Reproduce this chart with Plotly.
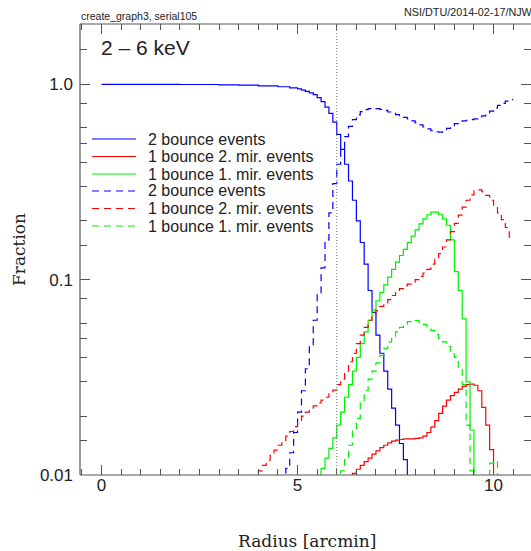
import plotly.graph_objects as go

# ---------------------------------------------------------------------------
# Radial profiles, 2-6 keV: fraction of events per radial bin.
# R_* are bin edges in arcmin, F_* the fraction in each bin (one fewer value).
# ---------------------------------------------------------------------------

# 2 bounce events (solid)
R_2B = [0.0, 1.0, 2.0, 3.0, 3.5, 4.0, 4.5, 4.8, 5.0, 5.1, 5.2, 5.3, 5.4, 5.5,
        5.6, 5.7, 5.8, 5.9, 6.0, 6.1, 6.2, 6.3, 6.4, 6.5, 6.6, 6.7, 6.8, 6.9,
        7.0, 7.1, 7.2, 7.3, 7.4, 7.5, 7.6, 7.7, 7.8, 7.9]
F_2B = [1.0, 1.0, 0.998, 0.995, 0.99, 0.982, 0.972, 0.96, 0.948, 0.935, 0.92,
        0.905, 0.885, 0.855, 0.815, 0.765, 0.71, 0.64, 0.555, 0.465, 0.39, 0.32,
        0.255, 0.2, 0.155, 0.12, 0.088, 0.068, 0.052, 0.042, 0.034, 0.0275,
        0.022, 0.018, 0.0145, 0.012, 0.008]

# 1 bounce, 2nd mirror events (solid)
R_1B2M = [6.3, 6.4, 6.5, 6.6, 6.7, 6.8, 6.9, 7.0, 7.1, 7.2, 7.3, 7.4, 7.5, 7.6,
          7.7, 7.8, 7.9, 8.0, 8.1, 8.2, 8.3, 8.4, 8.5, 8.6, 8.7, 8.8, 8.9, 9.0,
          9.1, 9.2, 9.3, 9.4, 9.5, 9.6, 9.7, 9.8, 9.9, 10.0, 10.1]
F_1B2M = [0.008, 0.0102, 0.0107, 0.0112, 0.0117, 0.0122, 0.0128, 0.0133, 0.0138,
          0.0142, 0.0146, 0.0149, 0.0151, 0.0152, 0.0153, 0.0153, 0.0153, 0.0154,
          0.0155, 0.0158, 0.0165, 0.0176, 0.019, 0.0207, 0.0225, 0.0242, 0.0255,
          0.0265, 0.0275, 0.0284, 0.029, 0.0292, 0.0288, 0.027, 0.0222, 0.018,
          0.0135, 0.008]

# 1 bounce, 1st mirror events (solid)
R_1B1M = [5.5, 5.6, 5.7, 5.8, 5.9, 6.0, 6.1, 6.2, 6.3, 6.4, 6.5, 6.6, 6.7, 6.8,
          6.9, 7.0, 7.1, 7.2, 7.3, 7.4, 7.5, 7.6, 7.7, 7.8, 7.9, 8.0, 8.1, 8.2,
          8.3, 8.4, 8.5, 8.6, 8.7, 8.8, 8.9, 9.0, 9.1, 9.2, 9.3, 9.4, 9.5, 9.6]
F_1B1M = [0.008, 0.0108, 0.0122, 0.0137, 0.0155, 0.018, 0.021, 0.025, 0.029,
          0.034, 0.04, 0.047, 0.054, 0.062, 0.07, 0.078, 0.086, 0.094, 0.103,
          0.113, 0.123, 0.133, 0.143, 0.155, 0.167, 0.18, 0.193, 0.205, 0.215,
          0.222, 0.222, 0.215, 0.205, 0.19, 0.16, 0.11, 0.088, 0.063, 0.03,
          0.017, 0.007]

# 2 bounce events (dashed)
R_2B_D = [4.6, 4.7, 4.8, 4.9, 5.0, 5.1, 5.2, 5.3, 5.4, 5.5, 5.6, 5.7, 5.8, 5.9,
          6.0, 6.1, 6.2, 6.3, 6.4, 6.5, 6.6, 6.7, 6.8, 6.9, 7.0, 7.1, 7.2, 7.3,
          7.4, 7.5, 7.6, 7.7, 7.8, 7.9, 8.0, 8.1, 8.2, 8.3, 8.4, 8.5, 8.6, 8.7,
          8.8, 8.9, 9.0, 9.1, 9.2, 9.3, 9.4, 9.5, 9.6, 9.7, 9.8, 9.9, 10.0,
          10.1, 10.2, 10.3, 10.4, 10.5]
F_2B_D = [0.008, 0.0108, 0.013, 0.0165, 0.021, 0.027, 0.035, 0.046, 0.062,
          0.085, 0.115, 0.16, 0.22, 0.31, 0.39, 0.47, 0.54, 0.61, 0.66, 0.697,
          0.725, 0.742, 0.752, 0.755, 0.752, 0.745, 0.735, 0.722, 0.71, 0.7,
          0.69, 0.677, 0.665, 0.65, 0.635, 0.62, 0.605, 0.592, 0.58, 0.572,
          0.57, 0.578, 0.595, 0.615, 0.63, 0.64, 0.65, 0.655, 0.66, 0.665,
          0.672, 0.69, 0.71, 0.73, 0.755, 0.78, 0.8, 0.82, 0.835]

# 1 bounce, 2nd mirror events (dashed)
R_1B2M_D = [3.9, 4.0, 4.1, 4.2, 4.3, 4.4, 4.5, 4.6, 4.7, 4.8, 4.9, 5.0, 5.1,
            5.2, 5.3, 5.4, 5.5, 5.6, 5.7, 5.8, 5.9, 6.0, 6.1, 6.2, 6.3, 6.4,
            6.5, 6.6, 6.7, 6.8, 6.9, 7.0, 7.1, 7.2, 7.3, 7.4, 7.5, 7.6, 7.7,
            7.8, 7.9, 8.0, 8.1, 8.2, 8.3, 8.4, 8.5, 8.6, 8.7, 8.8, 8.9, 9.0,
            9.1, 9.2, 9.3, 9.4, 9.5, 9.6, 9.7, 9.8, 9.9, 10.0, 10.1, 10.2,
            10.3, 10.4, 10.5]
F_1B2M_D = [0.008, 0.0105, 0.0112, 0.0119, 0.0126, 0.0134, 0.0142, 0.015,
            0.0158, 0.0167, 0.0177, 0.0188, 0.02, 0.021, 0.0218, 0.0226, 0.0234,
            0.0242, 0.025, 0.026, 0.0272, 0.029, 0.031, 0.034, 0.038, 0.042,
            0.047, 0.052, 0.057, 0.062, 0.066, 0.0695, 0.073, 0.076, 0.079,
            0.083, 0.087, 0.09, 0.093, 0.095, 0.097, 0.1, 0.104, 0.108, 0.113,
            0.12, 0.127, 0.136, 0.147, 0.16, 0.176, 0.194, 0.214, 0.235, 0.255,
            0.272, 0.285, 0.288, 0.282, 0.27, 0.255, 0.238, 0.22, 0.203, 0.185,
            0.165]

# 1 bounce, 1st mirror events (dashed)
R_1B1M_D = [6.0, 6.1, 6.2, 6.3, 6.4, 6.5, 6.6, 6.7, 6.8, 6.9, 7.0, 7.1, 7.2,
            7.3, 7.4, 7.5, 7.6, 7.7, 7.8, 7.9, 8.0, 8.1, 8.2, 8.3, 8.4, 8.5,
            8.6, 8.7, 8.8, 8.9, 9.0, 9.1, 9.2, 9.3, 9.4, 9.5, 9.6, 9.7, 9.8,
            9.9, 10.0, 10.1, 10.2]
F_1B1M_D = [0.008, 0.0105, 0.012, 0.0142, 0.0168, 0.0195, 0.0235, 0.027, 0.031,
            0.034, 0.0375, 0.041, 0.0445, 0.048, 0.051, 0.054, 0.057, 0.059,
            0.061, 0.062, 0.0618, 0.0605, 0.059, 0.0575, 0.055, 0.0525, 0.05,
            0.048, 0.0455, 0.043, 0.04, 0.035, 0.029, 0.018, 0.0105, 0.008,
            0.007, 0.007, 0.008, 0.0115, 0.0118, 0.008]

LABELS = ["2 bounce events", "1 bounce 2. mir. events", "1 bounce 1. mir. events",
          "2 bounce events", "1 bounce 2. mir. events", "1 bounce 1. mir. events"]

BLUE, RED, GREEN = "#0000ff", "#ff0000", "#00f000"
DASH = "7px,5px"

SERIES = [
    (R_2B, F_2B, BLUE, "solid"),
    (R_1B2M, F_1B2M, RED, "solid"),
    (R_1B1M, F_1B1M, GREEN, "solid"),
    (R_2B_D, F_2B_D, BLUE, DASH),
    (R_1B2M_D, F_1B2M_D, RED, DASH),
    (R_1B1M_D, F_1B1M_D, GREEN, DASH),
]

SPLIT_RADIUS = 6.0

# ---------------------------------------------------------------------------
# Page geometry
# ---------------------------------------------------------------------------
FIG_W, FIG_H = 531, 551
M_L, M_R, M_T, M_B = 80, 0, 24, 76
PW = FIG_W - M_L - M_R
PH = FIG_H - M_T - M_B


def px(x):
    return (x - M_L) / PW


def py(y):
    return (FIG_H - M_B - y) / PH


SANS = "Liberation Sans, Arial, Helvetica, sans-serif"
SERIF = "DejaVu Serif, serif"
INK = "#222222"
AXC = "#555555"

fig = go.Figure()

for edges, frac, color, dash in SERIES:
    fig.add_trace(go.Scatter(
        x=edges, y=frac + [frac[-1]],
        mode="lines",
        line=dict(shape="hv", color=color, width=1.2, dash=dash),
        showlegend=False, hoverinfo="skip",
    ))

shapes = []
# axis frame (left, bottom, top)
for x0, y0, x1, y1 in [(0, 0, 0, 1), (0, 0, 1, 0), (0, 1, 1, 1)]:
    shapes.append(dict(type="line", xref="paper", yref="paper",
                       x0=x0, y0=y0, x1=x1, y1=y1,
                       line=dict(color=AXC, width=1.2)))
# dotted marker at the split radius
shapes.append(dict(type="line", xref="x", yref="paper",
                   x0=SPLIT_RADIUS, x1=SPLIT_RADIUS, y0=0, y1=1,
                   line=dict(color="#777777", width=1, dash="1px,2px")))

annotations = []
# legend
ROW_Y = [139.0, 156.5, 174.0, 191.0, 208.5, 226.0]
for (edges, frac, color, dash), label, yrow in zip(SERIES, LABELS, ROW_Y):
    shapes.append(dict(type="line", xref="paper", yref="paper",
                       x0=px(92), x1=px(136), y0=py(yrow), y1=py(yrow),
                       line=dict(color=color, width=1, dash=dash)))
    annotations.append(dict(xref="paper", yref="paper", x=px(146), y=py(yrow),
                            xanchor="left", yanchor="middle", text=label,
                            showarrow=False,
                            font=dict(family=SANS, size=16, color=INK)))

annotations += [
    dict(xref="paper", yref="paper", x=px(99), y=py(47), xanchor="left",
         yanchor="middle", text="2 – 6 keV", showarrow=False,
         font=dict(family=SANS, size=21, color=INK)),
    dict(xref="paper", yref="paper", x=px(79), y=py(16), xanchor="left",
         yanchor="middle", text="create_graph3, serial105", showarrow=False,
         font=dict(family=SANS, size=10.5, color=INK)),
    dict(xref="paper", yref="paper", x=px(402), y=py(12), xanchor="left",
         yanchor="middle", text="NSI/DTU/2014-02-17/NJW", showarrow=False,
         font=dict(family=SANS, size=10.8, color=INK)),
    dict(xref="paper", yref="paper", x=px(306.5), y=py(541), xanchor="center",
         yanchor="middle", text="Radius [arcmin]", showarrow=False,
         font=dict(family=SERIF, size=17, color=INK)),
    dict(xref="paper", yref="paper", x=px(19), y=py(250), xanchor="center",
         yanchor="middle", text="Fraction", textangle=-90, showarrow=False,
         font=dict(family=SERIF, size=17, color=INK)),
]

fig.update_layout(
    width=FIG_W, height=FIG_H,
    margin=dict(l=M_L, r=M_R, t=M_T, b=M_B, pad=0),
    paper_bgcolor="white", plot_bgcolor="white",
    showlegend=False,
    shapes=shapes, annotations=annotations,
    xaxis=dict(
        range=[-0.55, 10.955], showgrid=False, zeroline=False, showline=False,
        mirror="ticks", ticks="inside", ticklen=10, tickwidth=1, tickcolor=AXC,
        tickmode="array", tickvals=[0, 5, 10], ticktext=["0", "5", "10"],
        tickfont=dict(family=SANS, size=17, color=INK), ticklabelstandoff=-2,
        minor=dict(tickmode="linear", tick0=0, dtick=0.5, ticks="inside",
                   ticklen=6, tickwidth=1, tickcolor=AXC, showgrid=False),
    ),
    yaxis=dict(
        type="log", range=[-2, 0.309], showgrid=False, zeroline=False,
        showline=False, mirror="ticks", ticks="inside", ticklen=10,
        tickwidth=1, tickcolor=AXC,
        tickmode="array", tickvals=[0.01, 0.1, 1.0],
        ticktext=["0.01", "0.1", "1.0"],
        tickfont=dict(family=SANS, size=17, color=INK), ticklabelstandoff=6,
        minor=dict(tickmode="array",
                   tickvals=[0.015, 0.02, 0.03, 0.04, 0.05, 0.06, 0.08,
                             0.15, 0.2, 0.3, 0.4, 0.5, 0.6, 0.8, 1.5],
                   ticks="inside", ticklen=7, tickwidth=1, tickcolor=AXC,
                   showgrid=False),
    ),
)

fig.write_html("out.html")
